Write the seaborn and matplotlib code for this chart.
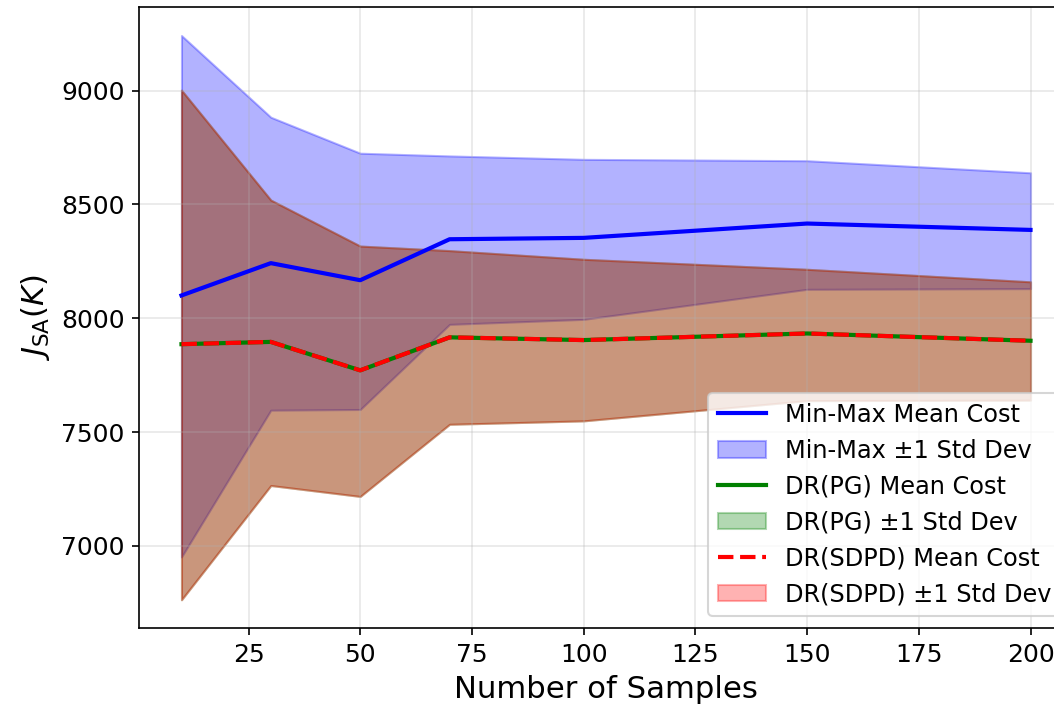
import numpy as np
import matplotlib
matplotlib.use("Agg")
import matplotlib.pyplot as plt
import seaborn as sns

samples = [10, 30, 50, 70, 100, 150, 200]

minmax_mean = [8100, 8242, 8167, 8347, 8353, 8416, 8388]
minmax_upper = [9242, 8883, 8725, 8713, 8698, 8692, 8639]
minmax_lower = [6951, 7596, 7599, 7973, 7995, 8127, 8130]

dr_mean = [7886, 7896, 7771, 7916, 7904, 7933, 7901]
dr_upper = [9002, 8519, 8317, 8297, 8259, 8215, 8160]
dr_lower = [6763, 7265, 7217, 7534, 7549, 7638, 7640]

fig = plt.figure(figsize = (1054 / 150, 710 / 150), dpi = 150)
# axes run past the right edge, like the cropped original
ax = fig.add_axes([0.1319, 0.1155, 0.8861, 0.8742])

sns.lineplot(x = samples, y = minmax_mean, color = 'blue', linewidth = 2, label = 'Min-Max Mean Cost', ax = ax)
ax.fill_between(samples, minmax_lower, minmax_upper, color = 'blue', alpha = 0.3, label = 'Min-Max ±1 Std Dev')

sns.lineplot(x = samples, y = dr_mean, color = 'green', linewidth = 2, label = 'DR(PG) Mean Cost', ax = ax)
ax.fill_between(samples, dr_lower, dr_upper, color = 'green', alpha = 0.3, label = 'DR(PG) ±1 Std Dev')

sns.lineplot(x = samples, y = dr_mean, color = 'red', linewidth = 2, linestyle = '--', label = 'DR(SDPD) Mean Cost', ax = ax)
ax.fill_between(samples, dr_lower, dr_upper, color = 'red', alpha = 0.3, label = 'DR(SDPD) ±1 Std Dev')

ax.set_xlabel('Number of Samples', fontsize = 14.75)
ax.set_ylabel(r'$J_{\mathrm{SA}}(K)$', fontsize = 14.75)
ax.tick_params(labelsize = 12)
ax.set_xticks([25, 50, 75, 100, 125, 150, 175, 200])
ax.set_yticks([7000, 7500, 8000, 8500, 9000])
ax.grid(True, alpha = 0.3)
ax.legend(loc = 'lower right', fontsize = 11.5)

fig.savefig('out.png', dpi = 150)
